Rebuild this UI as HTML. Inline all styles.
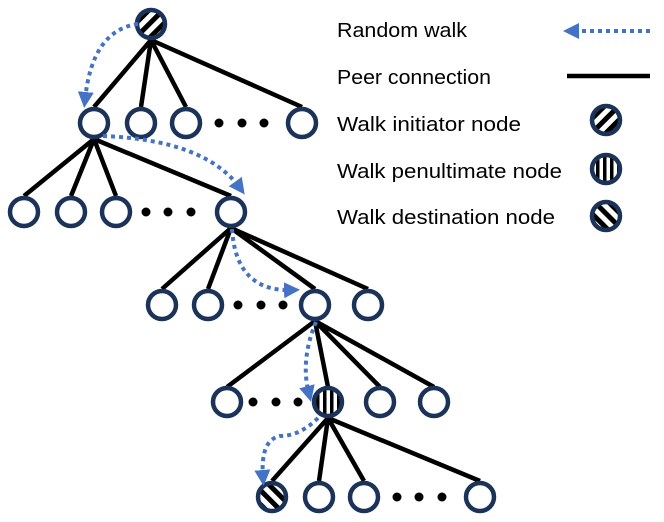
<!DOCTYPE html>
<html><head><style>body{margin:0;background:#fff}svg{display:block}</style></head>
<body>
<svg width="664" height="522" viewBox="0 0 664 522" xmlns="http://www.w3.org/2000/svg">
<defs>
<pattern id="pd" patternUnits="userSpaceOnUse" width="10" height="10" patternTransform="rotate(45)"><rect width="10" height="10" fill="#fff"/><rect width="10" height="5" fill="#000"/></pattern>
<pattern id="pi" patternUnits="userSpaceOnUse" width="10" height="10" patternTransform="rotate(-45)"><rect width="10" height="10" fill="#fff"/><rect width="10" height="5" fill="#000"/></pattern>
<pattern id="pv" patternUnits="userSpaceOnUse" width="7" height="7" x="1"><rect width="7" height="7" fill="#fff"/><rect width="3.5" height="7" fill="#000"/></pattern>
<marker id="ah" markerWidth="4" markerHeight="4" refX="2" refY="2" orient="auto" markerUnits="strokeWidth"><path d="M0,0 L4,2 L0,4 z" fill="#4472C4"/></marker>
</defs>
<g stroke="#000" stroke-width="4.5" fill="none">
<path d="M151,40 L94,107 M151,40 L141,107 M151,40 L186,107 M151,40 L302,107"/>
<path d="M94,139 L24,196 M94,139 L71,196 M94,139 L116,196 M94,139 L231,196"/>
<path d="M231,228 L162,289 M231,228 L208,289 M231,228 L315,289 M231,228 L368,289"/>
<path d="M315,321 L227,387 M315,321 L328,387 M315,321 L380,387 M315,321 L434,387"/>
<path d="M328,418 L272,481 M328,418 L319,481 M328,418 L364,481 M328,418 L480,481"/>
<path d="M567,76 L650,76"/>
</g>
<g fill="#000">
<circle cx="219" cy="123" r="4.5"/><circle cx="242" cy="123" r="4.5"/><circle cx="264" cy="123" r="4.5"/>
<circle cx="146" cy="212" r="4.5"/><circle cx="168" cy="212" r="4.5"/><circle cx="191" cy="212" r="4.5"/>
<circle cx="238" cy="305" r="4.5"/><circle cx="261" cy="305" r="4.5"/><circle cx="283" cy="305" r="4.5"/>
<circle cx="253" cy="402" r="4.5"/><circle cx="276" cy="402" r="4.5"/><circle cx="298" cy="402" r="4.5"/>
<circle cx="397" cy="497" r="4.5"/><circle cx="419" cy="497" r="4.5"/><circle cx="442" cy="497" r="4.5"/>
</g>
<g stroke="#1B3358" stroke-width="4.5" fill="#fff">
<circle cx="151" cy="24" r="14" fill="url(#pi)"/>
<circle cx="94" cy="123" r="14"/><circle cx="141" cy="123" r="14"/><circle cx="186" cy="123" r="14"/><circle cx="302" cy="123" r="14"/>
<circle cx="24" cy="212" r="14"/><circle cx="71" cy="212" r="14"/><circle cx="116" cy="212" r="14"/><circle cx="231" cy="212" r="14"/>
<circle cx="162" cy="305" r="14"/><circle cx="208" cy="305" r="14"/><circle cx="315" cy="305" r="14"/><circle cx="368" cy="305" r="14"/>
<circle cx="227" cy="402" r="14"/><circle cx="328" cy="402" r="14" fill="url(#pv)"/><circle cx="380" cy="402" r="14"/><circle cx="434" cy="402" r="14"/>
<circle cx="272" cy="497" r="14" fill="url(#pd)"/><circle cx="319" cy="497" r="14"/><circle cx="364" cy="497" r="14"/><circle cx="480" cy="497" r="14"/>
<circle cx="606" cy="120" r="14" fill="url(#pi)"/>
<circle cx="606" cy="169" r="14" fill="url(#pv)"/>
<circle cx="606" cy="216" r="14" fill="url(#pd)"/>
</g>
<g stroke="#4472C4" stroke-width="4" fill="none" stroke-dasharray="4 4" marker-end="url(#ah)">
<path d="M138,24 Q92,30 85,100"/>
<path d="M103,136 Q205,140 240,188"/>
<path d="M232,229 Q236,292 292,290"/>
<path d="M316,322 Q300,360 309,394"/>
<path d="M318,418 Q300,436 280,436 Q260,440 263,478"/>
<path d="M650,31 L571,31"/>
</g>
<g font-family="'Liberation Sans', sans-serif" font-size="20" fill="#000">
<text x="337" y="37" textLength="130" lengthAdjust="spacingAndGlyphs">Random walk</text>
<text x="337" y="84" textLength="154" lengthAdjust="spacingAndGlyphs">Peer connection</text>
<text x="337" y="131" textLength="184" lengthAdjust="spacingAndGlyphs">Walk initiator node</text>
<text x="337" y="178" textLength="225" lengthAdjust="spacingAndGlyphs">Walk penultimate node</text>
<text x="337" y="224" textLength="218" lengthAdjust="spacingAndGlyphs">Walk destination node</text>
</g>
</svg>
</body></html>
